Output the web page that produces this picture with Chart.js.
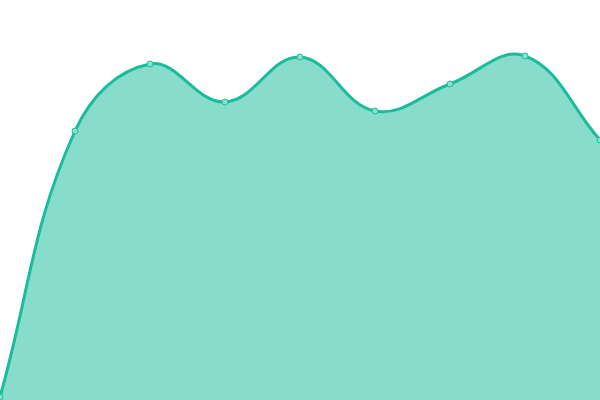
<!DOCTYPE html>
<html>
<head>
<meta charset="utf-8">
<script src="https://cdn.jsdelivr.net/npm/chart.js@4"></script>
<style>
  html, body { margin: 0; padding: 0; background: #fff; overflow: hidden; }
  /* Chart.js keeps a 5px inset for the points; push it past the window edges */
  #wrap { position: absolute; left: -5px; top: -5px; width: 610px; height: 410px; }
</style>
</head>
<body>
<div id="wrap"><canvas id="areaChart"></canvas></div>
<script>
// Data
const labels = ['1', '2', '3', '4', '5', '6', '7', '8', '9'];
const values = [3, 269, 336, 298, 343, 289, 316, 344, 260];

const ctx = document.getElementById('areaChart').getContext('2d');
const areaChart = new Chart(ctx, {
    type: 'line',
    data: {
        labels: labels,
        datasets: [{
            data: values,
            fill: true,
            backgroundColor: 'rgba(26, 188, 156, 0.52)',
            borderColor: '#1abc9c',
            borderWidth: 3,
            tension: 0.4,
            pointRadius: 3,
            pointBackgroundColor: '#88e0cf',
            pointBorderColor: '#1abc9c',
            pointBorderWidth: 1
        }]
    },
    options: {
        responsive: true,
        maintainAspectRatio: false,
        animation: false,
        plugins: {
            legend: { display: false },
            tooltip: { enabled: false }
        },
        scales: {
            x: { display: false },
            y: { display: false, min: 0, max: 400 }
        }
    }
});
</script>
</body>
</html>
